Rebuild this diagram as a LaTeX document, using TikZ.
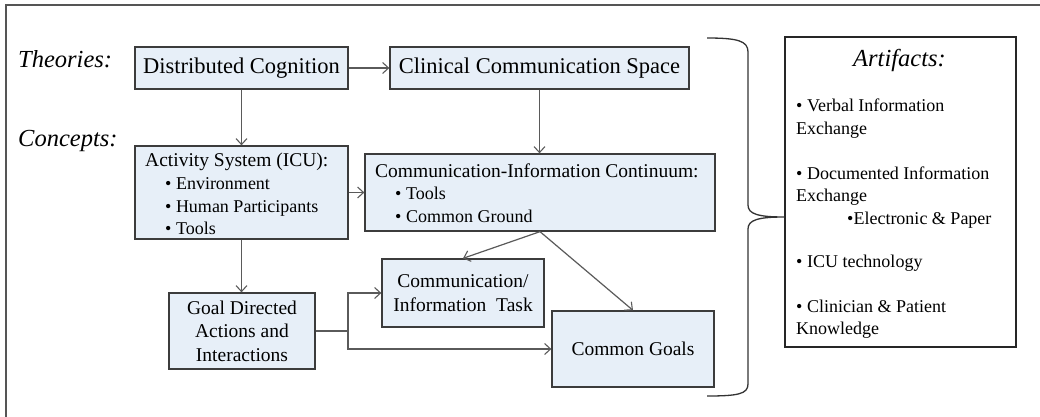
\documentclass[tikz,border=0pt]{standalone}
\usepackage{fontspec}
\setmainfont{Liberation Serif}
\usetikzlibrary{arrows.meta}
\definecolor{boxfill}{RGB}{231,239,248}
\definecolor{boxborder}{RGB}{60,60,60}
\definecolor{lineclr}{RGB}{90,90,90}
\definecolor{frameclr}{RGB}{85,85,85}
\newcommand{\fsA}{\fontsize{22.5}{27}\selectfont}
\newcommand{\fsB}{\fontsize{19.5}{23.5}\selectfont}
\newcommand{\fsC}{\fontsize{18}{22}\selectfont}
\newcommand{\fsI}{\fontsize{24.5}{29}\selectfont\itshape}
\tikzset{
  box/.style={draw=boxborder, line width=1.3pt, fill=boxfill, inner sep=0pt, align=center},
  artbox/.style={draw=black!85, line width=1.2pt, fill=white, inner sep=0pt},
  conn/.style={draw=lineclr, line width=1.2pt, -{Straight Barb[length=6pt, width=11pt, line width=1.1pt]}},
  plain/.style={draw=lineclr, line width=1.2pt},
  txt/.style={inner sep=0pt, anchor=base west},
}
\begin{document}
\begin{tikzpicture}[x=1pt, y=-1pt]
\useasboundingbox (0,0) rectangle (1040,417);
% frame
\draw[frameclr, line width=1.8pt] (6,417) -- (6,5) -- (1040,5);

% labels
\node[txt, font=\fsI] (theo) at (18,68) {Theories:};
\node[txt, font=\fsI] (conc) at (18,146) {Concepts:};

% boxes
\node[box, minimum width=213, minimum height=42, font=\fsA] (DC) at (241.5,68) {Distributed Cognition};
\node[box, minimum width=299, minimum height=42, font=\fsA] (CCS) at (539.5,68) {Clinical Communication Space};
\node[box, minimum width=213, minimum height=93] (AS) at (241.5,192.5) {};
\node[box, minimum width=350, minimum height=77] (CIC) at (540,192.5) {};
\node[box, minimum width=146, minimum height=76, font=\fsB] (GD) at (242,331) {Goal Directed\\Actions and\\Interactions};
\node[box, minimum width=162, minimum height=68, font=\fsB] (CIT) at (463,293) {Communication/\\Information\ \ Task};
\node[box, minimum width=162, minimum height=76, font=\fsB] (CG) at (633,349) {Common Goals};
\node[artbox, minimum width=231, minimum height=310] (ART) at (900.5,192) {};

% Activity system text
\node[txt, font=\fsB] (ast) at (145,166.5) {Activity System (ICU):};
\node[txt, font=\fsC] (as1) at (165,189) {• Environment};
\node[txt, font=\fsC] (as2) at (165,212) {• Human Participants};
\node[txt, font=\fsC] (as3) at (165,234) {• Tools};

% CIC text
\node[txt, font=\fsB] (cict) at (375,177.5) {Communication-Information Continuum:};
\node[txt, font=\fsC] (cic1) at (395,199) {• Tools};
\node[txt, font=\fsC] (cic2) at (395,222) {• Common Ground};

% Artifacts text
\node[inner sep=0pt, anchor=base, font=\fsI] (artt) at (899.5,67) {Artifacts:};
\node[txt, font=\fsC] (ar1) at (796,112) {• Verbal Information};
\node[txt, font=\fsC] (ar2) at (796,134) {Exchange};
\node[txt, font=\fsC] (ar3) at (796,179) {• Documented Information};
\node[txt, font=\fsC] (ar4) at (796,201) {Exchange};
\node[txt, font=\fsC] (ar5) at (847,224) {•Electronic \& Paper};
\node[txt, font=\fsC] (ar6) at (796,267) {• ICU technology};
\node[txt, font=\fsC] (ar7) at (796,312) {• Clinician \& Patient};
\node[txt, font=\fsC] (ar8) at (796,334) {Knowledge};

% connectors
\draw[conn] (DC.east) -- (CCS.west);
\draw[conn] (DC.south) -- (DC.south |- AS.north);
\draw[conn] (CCS.south) -- (CCS.south |- CIC.north);
\draw[conn] (AS.east) -- (AS.east -| CIC.west);
\draw[conn] (AS.south) -- (AS.south |- GD.north);
\coordinate (j) at (348,331);
\draw[plain] (GD.east) -- (j);
\draw[conn] (j) |- (CIT.west);
\draw[conn] (j) |- (CG.west);
\draw[conn] (CIC.south) -- (CIT.north);
\draw[conn] (CIC.south) -- (CG.north);

% brace
\coordinate (tip) at (ART.west |- 0,217);
\draw[black!80, line width=1.3pt] (707,38) .. controls (738,38) and (748,41) .. (748,52)
  -- (748,205) .. controls (748,214) and (758,217) .. (tip)
  (tip) .. controls (758,217) and (748,220) .. (748,229)
  -- (748,384) .. controls (748,394) and (738,396) .. (707,396);
\end{tikzpicture}
\end{document}
